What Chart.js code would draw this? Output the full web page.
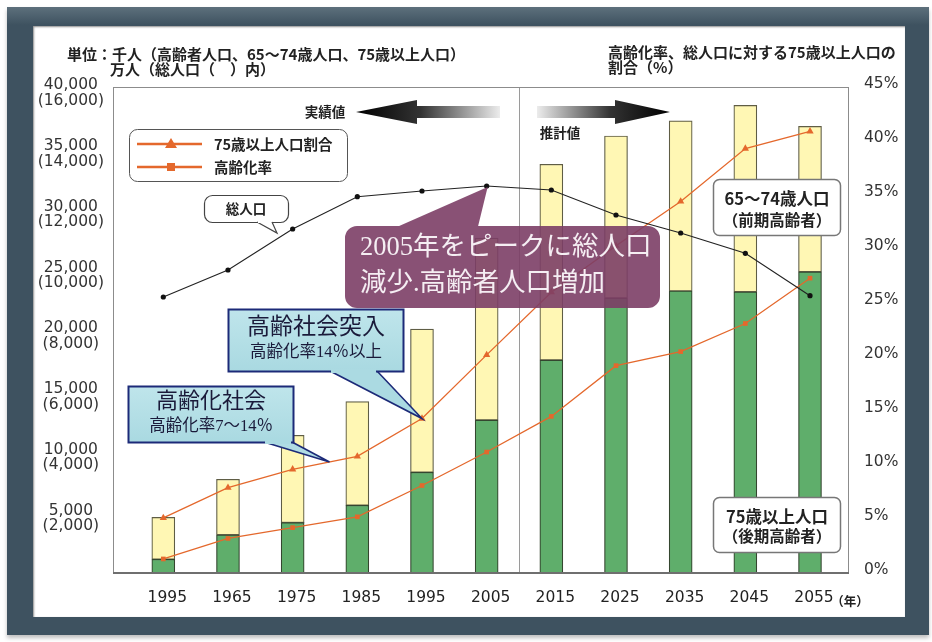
<!DOCTYPE html>
<html lang="ja">
<head>
<meta charset="utf-8">
<title>高齢者人口と高齢化率の推移</title>
<script src="https://cdn.jsdelivr.net/npm/chart.js@4.4.1/dist/chart.umd.min.js"></script>
<style>
  html, body { margin: 0; padding: 0; background: #fff; }
  #wrap { position: relative; width: 932px; height: 642px; overflow: hidden; }
  #frame {
    position: absolute; left: 7px; top: 7px; width: 922px; height: 628px;
    background: linear-gradient(#5d707c, #3e5260 18px);
    box-shadow: 0 3px 4px rgba(0,0,0,0.25);
  }
  #paper {
    position: absolute; left: 33px; top: 26px; width: 872px; height: 591px;
    background: #fff; box-shadow: inset 1px 1px 2px rgba(0,0,0,0.45);
  }
  #box { position: absolute; left: 0; top: 0; width: 932px; height: 642px; }
</style>
</head>
<body>
<div id="wrap">
  <div id="frame"></div>
  <div id="paper"></div>
  <div id="box"><canvas id="chart"></canvas></div>
</div>
<script>
// 年次ラベル（千人単位の棒・万人単位の総人口・％の折れ線）
const years = ['1995', '1965', '1975', '1985', '1995', '2005', '2015', '2025', '2035', '2045', '2055'];

// 75歳以上人口（千人）
const over75 = [1130, 3130, 4140, 5570, 8290, 12590, 17530, 22630, 23210, 23130, 24780];
// 65～74歳人口（千人）
const age65to74 = [3450, 4580, 7190, 8530, 11790, 14980, 16110, 13340, 14010, 15360, 11980];
// 総人口（万人）
const totalPop = [9086, 9975, 11325, 12389, 12576, 12741, 12609, 11786, 11193, 10525, 9130];
// 75歳以上人口割合（▲）
const share75 = [5.1, 7.9, 9.6, 10.8, 14.3, 20.2, 26.0, 30.3, 34.4, 39.3, 40.9];
// 高齢化率（■）
const agingRate = [1.3, 3.2, 4.2, 5.2, 8.1, 11.2, 14.5, 19.2, 20.5, 23.1, 27.3];

// 目盛り
const leftTicks = [5000, 10000, 15000, 20000, 25000, 30000, 35000, 40000];
const pctTicks = [0, 5, 10, 15, 20, 25, 30, 35, 40, 45];

const ORANGE = '#e4682c';
const GREEN = '#5fae6b';
const YELLOW = '#fff7b4';
const SANS = '"Noto Sans CJK JP", "Noto Sans", sans-serif';
const SERIF = '"Liberation Serif", "Noto Sans CJK JP", serif';
const TICK_FONT = { family: '"DejaVu Sans", sans-serif', size: 15.5 };

const fmt = v => v.toLocaleString('en-US');
const xy = arr => arr.map((v, i) => ({ x: i, y: v }));

function txt(ctx, s, x, y, font, color, align) {
  ctx.font = font;
  ctx.fillStyle = color;
  ctx.textAlign = align || 'left';
  ctx.textBaseline = 'middle';
  ctx.fillText(s, x, y);
}

function box(ctx, x, y, w, h, r, fill, stroke, lw) {
  ctx.beginPath();
  ctx.roundRect(x, y, w, h, r);
  ctx.fillStyle = fill;
  ctx.fill();
  if (stroke) {
    ctx.lineWidth = lw || 1;
    ctx.strokeStyle = stroke;
    ctx.stroke();
  }
}

// 吹き出しのしっぽ（底辺 bx0-bx1 at by, 先端 tip）
function tail(ctx, bx0, bx1, by, tip, fill, stroke, lw) {
  ctx.beginPath();
  ctx.moveTo(bx0, by);
  ctx.lineTo(tip.x, tip.y);
  ctx.lineTo(bx1, by);
  ctx.closePath();
  ctx.fillStyle = fill;
  ctx.fill();
  if (stroke) {
    ctx.beginPath();
    ctx.moveTo(bx0, by);
    ctx.lineTo(tip.x, tip.y);
    ctx.lineTo(bx1, by);
    ctx.lineWidth = lw || 1;
    ctx.strokeStyle = stroke;
    ctx.stroke();
  }
}

function arrow(ctx, tipX, tailX, headX, yc, dark) {
  const g = ctx.createLinearGradient(tipX, 0, tailX, 0);
  g.addColorStop(0, dark);
  g.addColorStop(0.45, '#333');
  g.addColorStop(1, '#ececec');
  ctx.beginPath();
  ctx.moveTo(tipX, yc);
  ctx.lineTo(headX, yc - 12);
  ctx.lineTo(headX, yc - 6);
  ctx.lineTo(tailX, yc - 6);
  ctx.lineTo(tailX, yc + 6);
  ctx.lineTo(headX, yc + 6);
  ctx.lineTo(headX, yc + 12);
  ctx.closePath();
  ctx.fillStyle = g;
  ctx.fill();
}

const overlay = {
  id: 'overlay',
  beforeDatasetsDraw(chart) {
    const { ctx, chartArea: a, scales: { x } } = chart;
    // 実績値と推計値の区切り
    const xd = Math.round(x.getPixelForValue(5.5)) + 0.5;
    ctx.save();
    ctx.strokeStyle = '#9a9a9a';
    ctx.lineWidth = 1;
    ctx.beginPath();
    ctx.moveTo(xd, a.top);
    ctx.lineTo(xd, a.bottom);
    ctx.stroke();
    ctx.restore();
  },
  afterDatasetsDraw(chart) {
    const { ctx, chartArea: a } = chart;
    ctx.save();
    ctx.strokeStyle = '#8c8c8c';
    ctx.lineWidth = 1;
    ctx.strokeRect(a.left + 0.5, a.top + 0.5, a.right - a.left - 1, a.bottom - a.top);
    ctx.strokeStyle = '#6f6f6f';
    ctx.lineWidth = 2;
    ctx.beginPath();
    ctx.moveTo(a.left, a.bottom);
    ctx.lineTo(a.right, a.bottom);
    ctx.stroke();
    ctx.restore();
  },
  afterDraw(chart) {
    const { ctx, scales: { x, yPop, yPct } } = chart;
    const bold = size => `700 ${size}px ${SANS}`;
    ctx.save();

    // 単位
    txt(ctx, '単位：千人（高齢者人口、65〜74歳人口、75歳以上人口）', 67, 54, bold(15), '#222');
    txt(ctx, '万人（総人口（　）内）', 110, 69, bold(15), '#222');
    txt(ctx, '高齢化率、総人口に対する75歳以上人口の', 608, 52, bold(15), '#222');
    txt(ctx, '割合（%）', 608, 67, bold(15), '#222');
    txt(ctx, '（年）', 850, 601, bold(12.5), '#222', 'center');

    // 実績値 ← → 推計値
    arrow(ctx, 356, 500, 417, 112, '#000');
    arrow(ctx, 670, 537, 615, 112, '#000');
    txt(ctx, '実績値', 325, 112, bold(13.5), '#222', 'center');
    txt(ctx, '推計値', 560, 133, bold(13.5), '#222', 'center');

    // 凡例
    box(ctx, 129.5, 129.5, 218, 52, 8, '#fff', '#555', 1);
    ctx.lineWidth = 2.5;
    [[144, 'triangle', '75歳以上人口割合'], [167, 'rect', '高齢化率']].forEach(([ly, shape, label]) => {
      ctx.beginPath();
      ctx.moveTo(137, ly);
      ctx.lineTo(202, ly);
      ctx.strokeStyle = ORANGE;
      ctx.stroke();
      ctx.fillStyle = ORANGE;
      ctx.beginPath();
      if (shape === 'triangle') {
        ctx.moveTo(171, ly - 6);
        ctx.lineTo(177, ly + 4);
        ctx.lineTo(165, ly + 4);
        ctx.closePath();
      } else {
        ctx.rect(167, ly - 4, 8, 8);
      }
      ctx.fill();
      txt(ctx, label, 214, ly, bold(14.5), '#222');
    });

    // 総人口の吹き出し
    const popTip = { x: 277, y: 233 };
    box(ctx, 204.5, 195.5, 84, 27, 8, '#fff', '#444', 1.2);
    tail(ctx, 257, 272, 222, popTip, '#fff', '#444', 1.2);
    ctx.fillStyle = '#fff';
    ctx.fillRect(258, 220, 13, 3);
    txt(ctx, '総人口', 246, 209, bold(13.5), '#222', 'center');

    // 65～74歳人口
    box(ctx, 713.5, 179.5, 127, 56, 6, '#fff', '#777', 1.5);
    txt(ctx, '65〜74歳人口', 777, 199, bold(16.5), '#222', 'center');
    txt(ctx, '（前期高齢者）', 777, 220, bold(15.5), '#222', 'center');

    // 75歳以上人口
    box(ctx, 713.5, 497.5, 127, 55, 6, '#fff', '#777', 1.5);
    txt(ctx, '75歳以上人口', 777, 517, bold(16.5), '#222', 'center');
    txt(ctx, '（後期高齢者）', 777, 536, bold(15.5), '#222', 'center');

    // 高齢化社会
    const p2 = { x: x.getPixelForValue(2), y: yPct.getPixelForValue(share75[2]) };
    const p3 = { x: x.getPixelForValue(3), y: yPct.getPixelForValue(share75[3]) };
    const t = 0.57;
    const tip2 = { x: p2.x + (p3.x - p2.x) * t, y: p2.y + (p3.y - p2.y) * t };
    const blue = ctx.createLinearGradient(0, 386, 0, 443);
    blue.addColorStop(0, '#bfe5eb');
    blue.addColorStop(1, '#a9d9e1');
    tail(ctx, 264, 292, 442, tip2, '#b0dce4', '#1c2a78', 1.6);
    box(ctx, 128.5, 386.5, 165, 56, 0, blue, '#1c2a78', 2);
    ctx.fillStyle = '#abdae2';
    ctx.fillRect(265, 440, 26, 4);
    txt(ctx, '高齢化社会', 211, 402, `400 22px ${SERIF}`, '#1a1a3a', 'center');
    txt(ctx, '高齢化率7〜14％', 211, 427, `400 16.5px ${SERIF}`, '#1a1a3a', 'center');

    // 高齢社会突入
    const tip1 = { x: x.getPixelForValue(4), y: yPct.getPixelForValue(share75[4]) };
    const blue1 = ctx.createLinearGradient(0, 309, 0, 372);
    blue1.addColorStop(0, '#bfe5eb');
    blue1.addColorStop(1, '#a9d9e1');
    tail(ctx, 330, 377, 371, tip1, '#abdae2', '#1c2a78', 1.6);
    box(ctx, 228.5, 309.5, 175, 62, 0, blue1, '#1c2a78', 2);
    ctx.fillStyle = '#abdae2';
    ctx.fillRect(331, 369, 45, 4);
    txt(ctx, '高齢社会突入', 316, 328, `400 23px ${SERIF}`, '#1a1a3a', 'center');
    txt(ctx, '高齢化率14％以上', 316, 353, `400 16.5px ${SERIF}`, '#1a1a3a', 'center');

    // 2005年ピーク
    const peak = { x: x.getPixelForValue(5), y: yPop.getPixelForValue(totalPop[5]) };
    const purple = 'rgba(124, 62, 102, 0.9)';
    ctx.beginPath();
    ctx.roundRect(345, 226, 315, 82, 12);
    ctx.moveTo(398, 226.5);
    ctx.lineTo(peak.x + 1, peak.y + 1);
    ctx.lineTo(478, 226.5);
    ctx.fillStyle = purple;
    ctx.fill();
    txt(ctx, '2005年をピークに総人口', 360, 248, `400 26.5px ${SERIF}`, '#f5eef3');
    txt(ctx, '減少.高齢者人口増加', 360, 284, `400 26.5px ${SERIF}`, '#f5eef3');

    ctx.restore();
  }
};

new Chart(document.getElementById('chart'), {
  data: {
    datasets: [
      {
        type: 'bar', label: '75歳以上人口', data: xy(over75), yAxisID: 'y', stack: 'pop',
        backgroundColor: GREEN, borderColor: '#34462f', borderWidth: 1.2, borderSkipped: false,
        barThickness: 23, order: 3
      },
      {
        type: 'bar', label: '65～74歳人口', data: xy(age65to74), yAxisID: 'y', stack: 'pop',
        backgroundColor: YELLOW, borderColor: '#5f5d45', borderWidth: 1.2, borderSkipped: false,
        barThickness: 23, order: 3
      },
      {
        type: 'line', label: '総人口', data: xy(totalPop), yAxisID: 'yPop',
        borderColor: '#222', borderWidth: 1.1, pointRadius: 2.6, pointBackgroundColor: '#111',
        pointBorderWidth: 0, tension: 0, order: 1
      },
      {
        type: 'line', label: '75歳以上人口割合', data: xy(share75), yAxisID: 'yPct',
        borderColor: ORANGE, borderWidth: 1.3, pointStyle: 'triangle', pointRadius: 4.2,
        pointBackgroundColor: ORANGE, pointBorderWidth: 0, tension: 0, order: 2
      },
      {
        type: 'line', label: '高齢化率', data: xy(agingRate), yAxisID: 'yPct',
        borderColor: ORANGE, borderWidth: 1.3, pointStyle: 'rect', pointRadius: 3.3,
        pointBackgroundColor: ORANGE, pointBorderWidth: 0, tension: 0, order: 2
      }
    ]
  },
  options: {
    responsive: true,
    maintainAspectRatio: false,
    animation: false,
    layout: { padding: { top: 87, left: 0, right: 0, bottom: 0 } },
    plugins: { legend: { display: false }, tooltip: { enabled: false } },
    scales: {
      x: {
        type: 'linear', min: -0.778, max: 10.603, stacked: true, offset: false,
        grid: { display: false }, border: { display: false },
        afterBuildTicks: axis => { axis.ticks = years.map((_, i) => ({ value: i })); },
        afterFit: axis => { axis.height = 69; },
        ticks: {
          callback: v => years[v], font: TICK_FONT, color: '#222',
          padding: 8, labelOffset: 4, maxRotation: 0, autoSkip: false
        }
      },
      y: {
        position: 'left', stacked: true, min: 0, max: 40000,
        grid: { display: false }, border: { display: false },
        afterBuildTicks: axis => { axis.ticks = leftTicks.map(v => ({ value: v })); },
        afterFit: axis => { axis.width = 113; },
        ticks: {
          callback: v => [fmt(v), '(' + fmt(v * 0.4) + ')'],
          font: { ...TICK_FONT, lineHeight: 1.0 }, color: '#333',
          crossAlign: 'center', padding: 1, labelOffset: 6
        }
      },
      yPop: { display: false, min: 0, max: 16000 },
      yPct: {
        position: 'right', min: 0, max: 45,
        grid: { display: false }, border: { display: false },
        afterBuildTicks: axis => { axis.ticks = pctTicks.map(v => ({ value: v })); },
        afterFit: axis => { axis.width = 83; },
        ticks: {
          callback: v => v + '%', font: TICK_FONT, color: '#333',
          padding: 7, labelOffset: -3
        }
      }
    }
  },
  plugins: [overlay]
});
</script>
</body>
</html>
